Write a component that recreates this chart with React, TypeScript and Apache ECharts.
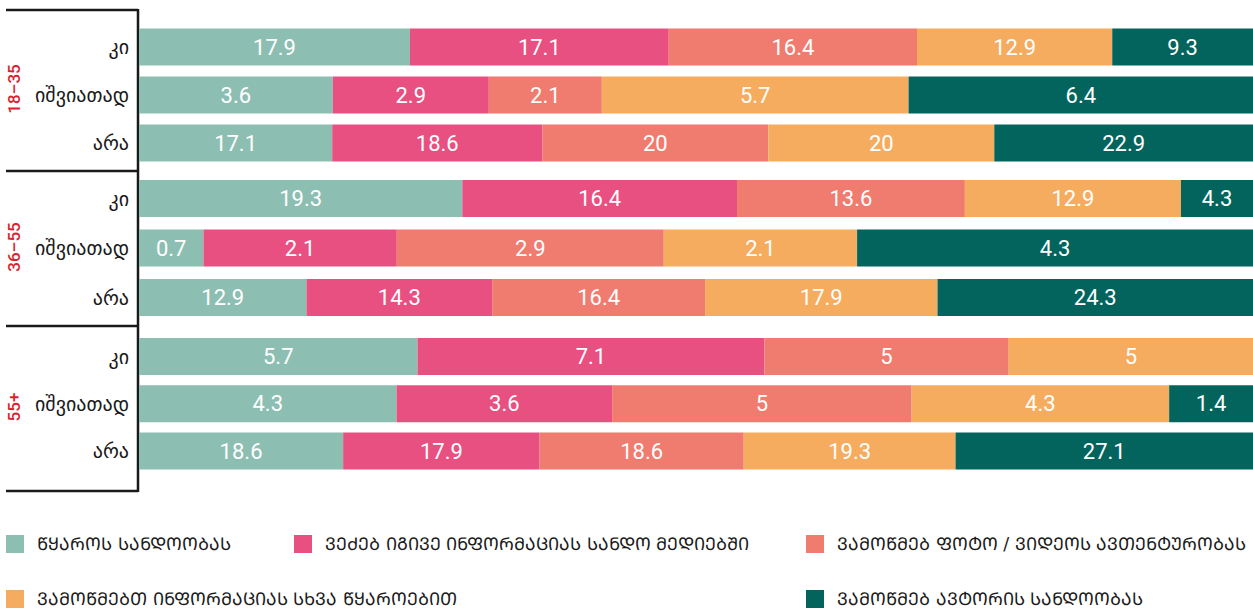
import React, { useEffect, useRef } from "react";
import * as echarts from "echarts";

const ageGroups = ["18–35", "36–55", "55+"];
const answers = ["კი", "იშვიათად", "არა"];
const seriesNames = [
  "ᲬᲧᲐᲠᲝᲡ ᲡᲐᲜᲓᲝᲝᲑᲐᲡ",
  "ᲕᲔᲫᲔᲑ ᲘᲒᲘᲕᲔ ᲘᲜᲤᲝᲠᲛᲐᲪᲘᲐᲡ ᲡᲐᲜᲓᲝ ᲛᲔᲓᲘᲔᲑᲨᲘ",
  "ᲕᲐᲛᲝᲬᲛᲔᲑ ᲤᲝᲢᲝ / ᲕᲘᲓᲔᲝᲡ ᲐᲕᲗᲔᲜᲢᲣᲠᲝᲑᲐᲡ",
  "ᲕᲐᲛᲝᲬᲛᲔᲑᲗ ᲘᲜᲤᲝᲠᲛᲐᲪᲘᲐᲡ ᲡᲮᲕᲐ ᲬᲧᲐᲠᲝᲔᲑᲘᲗ",
  "ᲕᲐᲛᲝᲬᲛᲔᲑ ᲐᲕᲢᲝᲠᲘᲡ ᲡᲐᲜᲓᲝᲝᲑᲐᲡ",
];
const colors = ["#8DBEB2", "#E85081", "#F07B6F", "#F6AC5F", "#02645C"];

// rows top to bottom: 18-35 (კი, იშვიათად, არა), 36-55 (...), 55+ (...)
const sourceTrust = [17.9, 3.6, 17.1, 19.3, 0.7, 12.9, 5.7, 4.3, 18.6];
const searchMedia = [17.1, 2.9, 18.6, 16.4, 2.1, 14.3, 7.1, 3.6, 17.9];
const checkPhoto = [16.4, 2.1, 20, 13.6, 2.9, 16.4, 5, 5, 18.6];
const checkOther = [12.9, 5.7, 20, 12.9, 2.1, 17.9, 5, 4.3, 19.3];
const checkAuthor = [9.3, 6.4, 22.9, 4.3, 4.3, 24.3, 0, 1.4, 27.1];

const allSeries = [sourceTrust, searchMedia, checkPhoto, checkOther, checkAuthor];

const gridTops = [23, 173.75, 332.9];
const gridHeights = [144, 148.5, 141.75];
const ageLabelY = [89, 247, 407];

export default function App() {
  const ref = useRef<HTMLDivElement>(null);
  useEffect(() => {
    if (!ref.current) return;
    const chart = echarts.init(ref.current, null, { renderer: "svg" });
    const rowSums = sourceTrust.map((_, i) =>
      allSeries.reduce((s, arr) => s + arr[i], 0)
    );
    const grids = gridTops.map((t, g) => ({
      left: 139,
      right: 0,
      top: t,
      height: gridHeights[g],
    }));
    const xAxes = grids.map((_, g) => ({
      type: "value",
      gridIndex: g,
      min: 0,
      max: 100,
      show: false,
    }));
    const yAxes = grids.map((_, g) => ({
      type: "category",
      gridIndex: g,
      data: answers,
      inverse: true,
      axisLine: { show: false },
      axisTick: { show: false },
      axisLabel: {
        color: "#1a1a1a",
        fontSize: 20,
        fontFamily: "DejaVu Sans",
        margin: 10,
      },
    }));
    const series: any[] = [];
    allSeries.forEach((arr, s) => {
      ageGroups.forEach((_, g) => {
        series.push({
          type: "bar",
          name: seriesNames[s],
          stack: "g" + g,
          xAxisIndex: g,
          yAxisIndex: g,
          barWidth: 37,
          itemStyle: { color: colors[s] },
          data: answers.map((_, r) => {
            const i = g * 3 + r;
            return { value: (arr[i] / rowSums[i]) * 100, raw: arr[i] };
          }),
          label: {
            show: true,
            position: "inside",
            color: "#ffffff",
            fontSize: 22,
            fontFamily: "Roboto",
            formatter: (p: any) => (p.data.raw ? String(p.data.raw) : ""),
          },
        });
      });
    });
    const legendPos = [
      { left: 6, top: 535 },
      { left: 294, top: 535 },
      { left: 806, top: 535 },
      { left: 6, top: 590 },
      { left: 806, top: 590 },
    ];
    const legend = seriesNames.map((n, i) => ({
      data: [n],
      left: legendPos[i].left,
      top: legendPos[i].top,
      padding: 0,
      icon: "rect",
      itemWidth: 18,
      itemHeight: 18,
      textStyle: {
        color: "#1a1a1a",
        fontSize: 17.6,
        fontFamily: "DejaVu Sans",
        padding: [0, 0, 0, 8],
      },
      selectedMode: false,
    }));
    const lineStyle = { stroke: "#1a1a1a", lineWidth: 2.5 };
    const graphic: any[] = [
      { type: "line", shape: { x1: 138, y1: 9, x2: 138, y2: 492 }, style: lineStyle },
      ...[10, 171, 326, 491].map((y) => ({
        type: "line",
        shape: { x1: 6, y1: y, x2: 138, y2: y },
        style: lineStyle,
      })),
      ...ageGroups.map((a, g) => ({
        type: "text",
        x: 14,
        y: ageLabelY[g],
        rotation: Math.PI / 2,
        style: {
          text: a,
          fill: "#D9232E",
          fontSize: 17,
          fontFamily: "Roboto",
          fontWeight: 500,
          align: "center",
          verticalAlign: "middle",
        },
      })),
    ];
    chart.setOption({
      animation: false,
      grid: grids,
      xAxis: xAxes,
      yAxis: yAxes,
      series,
      legend,
      graphic,
    });
    return () => chart.dispose();
  }, []);
  return (
    <div
      ref={ref}
      style={{ position: "fixed", left: 0, top: 0, width: 1253, height: 610, background: "#fff" }}
    />
  );
}
